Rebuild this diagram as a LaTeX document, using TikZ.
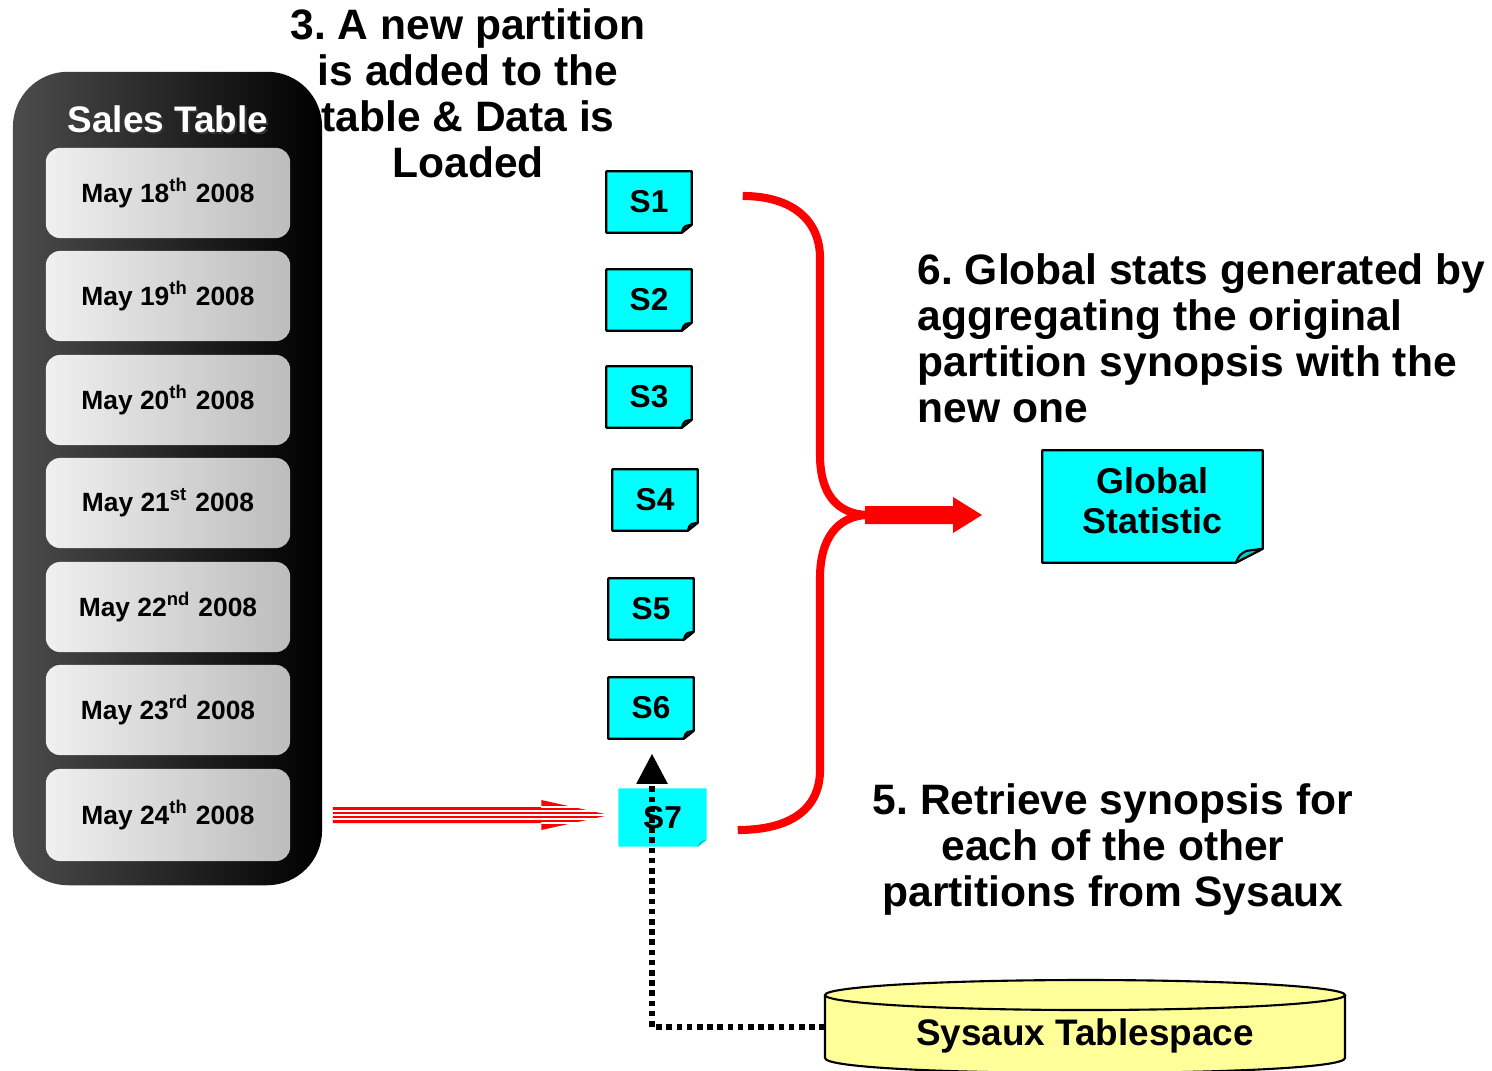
\documentclass[tikz,border=0pt]{standalone}
\usepackage{fontspec}
\setmainfont{Liberation Sans}
\usetikzlibrary{arrows.meta,calc}

\definecolor{notecyan}{HTML}{00FFFF}
\definecolor{noteflap}{HTML}{00CCCC}
\definecolor{tsyellow}{HTML}{FFFF99}
\definecolor{brightred}{HTML}{FF0000}

\pgfdeclarelayer{background}
\pgfsetlayers{background,main}

% sticky note with a curled bottom-right corner, drawn behind node #1
% #2, #3: size of the curl; #4: extra path options (border)
\newcommand\dogear[4]{%
  \begin{pgfonlayer}{background}
    \path[fill=notecyan,line join=round,#4] (#1.north west) -- (#1.north east)
      -- ($(#1.south east)+(0,-#3)$) -- ($(#1.south east)+(-#2,0)$)
      -- (#1.south west) -- cycle;
    \path[fill=noteflap,line join=round,#4] ($(#1.south east)+(-#2,0)$)
      .. controls ($(#1.south east)+(-0.85*#2,-0.6*#3)$) .. ($(#1.south east)+(-0.6*#2,-0.85*#3)$)
      -- ($(#1.south east)+(0,-#3)$) -- cycle;
  \end{pgfonlayer}}

\frenchspacing
\begin{document}
\begin{tikzpicture}[x=0.01cm,y=-0.01cm,
  bigtext/.style={font=\fontsize{12.1}{13.1}\selectfont\bfseries,inner sep=0pt},
  datebox/.style={minimum width=2.44cm,minimum height=0.90cm,inner sep=0pt,
    rounded corners=0.14cm,left color=white!94!black,right color=white!74!black,
    font=\fontsize{7.5}{9}\selectfont\bfseries},
  snote/.style={minimum width=0.84cm,minimum height=0.60cm,inner sep=0pt,
    font=\fontsize{9}{10}\selectfont\bfseries},
  bracered/.style={draw=brightred,line width=2.3pt},
  dotline/.style={draw=black,line width=1.5pt,dash pattern=on 1.6pt off 1.3pt,
    -{Triangle[width=0.30cm,length=0.30cm]}}
]
\begin{pgfonlayer}{background}
  \fill[white] (0,0) rectangle (1492,1070);
\end{pgfonlayer}
\useasboundingbox (0,0) rectangle (1492,1070);

% step captions
\node[bigtext,align=center,anchor=north] (step3) at (468,8)
  {3. A new partition\\is added to the\\table \& Data is\\Loaded};
\node[bigtext,align=left,anchor=north west] (step6) at (917,253)
  {6. Global stats generated by\\aggregating the original\\partition synopsis with the\\new one};
\node[bigtext,align=center,anchor=north] (step5) at (1113,783)
  {5. Retrieve synopsis for\\each of the other\\partitions from Sysaux};

% the partitioned table
\node[minimum width=3.09cm,minimum height=8.13cm,inner sep=0pt,rounded corners=0.55cm,
  left color=black!70,right color=black] (salestable) at (167.5,478.5) {};
\node[font=\fontsize{10.5}{12}\selectfont\bfseries,text=black!80] (titleshadow) at (170,121) {Sales Table};
\node[font=\fontsize{10.5}{12}\selectfont\bfseries,text=white] (title) at (168,119) {Sales Table};

\node[datebox] (d1) at (168,193) {May 18\textsuperscript{th} 2008};
\node[datebox] (d2) at (168,296) {May 19\textsuperscript{th} 2008};
\node[datebox] (d3) at (168,400) {May 20\textsuperscript{th} 2008};
\node[datebox] (d4) at (168,503) {May 21\textsuperscript{st} 2008};
\node[datebox] (d5) at (168,607) {May 22\textsuperscript{nd} 2008};
\node[datebox] (d6) at (168,710) {May 23\textsuperscript{rd} 2008};
\node[datebox,minimum height=0.92cm] (d7) at (168,815) {May 24\textsuperscript{th} 2008};

% partition synopses
\node[snote] (s1) at (649,202) {S1};
\node[snote] (s2) at (649,300) {S2};
\node[snote] (s3) at (649,397) {S3};
\node[snote] (s4) at (655,500) {S4};
\node[snote] (s5) at (651,609) {S5};
\node[snote] (s6) at (651,708) {S6};
\node[snote,minimum width=0.87cm,minimum height=0.57cm] (s7) at (662.5,817.5) {S7};
\foreach \n in {s1,s2,s3,s4,s5,s6} {\dogear{\n}{10}{8}{draw=black,line width=0.6pt}}
\dogear{s7}{9}{7}{draw=none}

% global statistic
\node[minimum width=2.19cm,minimum height=1.11cm,inner sep=0pt] (gstat) at (1152.5,506.5) {};
\node[align=center,inner sep=0pt,font=\fontsize{10.2}{11.4}\selectfont\bfseries]
  (gstatlabel) at (1152.5,501) {Global\\Statistic};
\dogear{gstat}{27}{14}{draw=black,line width=0.6pt}

% sysaux tablespace cylinder
\fill[tsyellow] (825,995) -- (825,1058) .. controls (825,1078) and (1345,1078) .. (1345,1058)
  -- (1345,995) -- cycle;
\draw[line width=0.6pt] (825,995) -- (825,1058) .. controls (825,1078) and (1345,1078) .. (1345,1058)
  -- (1345,995);
\filldraw[fill=tsyellow,line width=0.6pt] (1085,995) ellipse [x radius=260,y radius=15];
\node[font=\fontsize{10.5}{12}\selectfont\bfseries] (sysaux) at (1085,1036) {Sysaux Tablespace};
\coordinate (cylw) at (825,1027);

% new data loaded into the new partition (striped arrow)
\coordinate (stripeStart) at ($(d7.east)+(42,0)$);
\coordinate (stripeTip) at ($(s7.west)+(-9,-2.5)$);
\fill[brightred] ($(stripeStart)+(0,-8)$) -- ($(stripeTip)+(-68,-8)$) -- ($(stripeTip)+(-68,-15)$)
  -- (stripeTip) -- ($(stripeTip)+(-68,15)$) -- ($(stripeTip)+(-68,8)$)
  -- ($(stripeStart)+(0,8)$) -- cycle;
\foreach \dy in {-4,0,4}
  \draw[white,line width=0.45pt] ($(stripeStart)+(0,\dy)$) -- ($(stripeTip)+(0,\dy)$);
\foreach \dy in {-8,8}
  \draw[white,line width=0.45pt] ($(stripeTip)+(-68,\dy)$) -- ($(stripeTip)+(0,\dy)$);

% synopses retrieved from sysaux
\coordinate (upTip) at ($(s6.south)+(1,15)$);
\draw[dotline] (cylw) -| (upTip);

% aggregation brace
\coordinate (braceTop) at ($(s1.east)+(51,-6)$);
\coordinate (braceBot) at ($(s7.east)+(31,12.5)$);
\coordinate (joint) at (867,515);
\draw[bracered] (braceTop) .. controls (792,196) and (820,220) .. (820,258)
  -- (820,455) .. controls (820,495) and (838,514) .. (joint);
\draw[bracered] (joint) .. controls (838,516) and (820,538) .. (820,578)
  -- (820,770) .. controls (820,808) and (792,830) .. (braceBot);
\fill[brightred] ($(joint)+(-2,-9)$) -- ($(joint)+(86,-9)$) -- ($(joint)+(86,-18)$)
  -- ($(joint)+(115,0)$) -- ($(joint)+(86,18)$) -- ($(joint)+(86,9)$)
  -- ($(joint)+(-2,9)$) -- cycle;
\end{tikzpicture}
\end{document}
